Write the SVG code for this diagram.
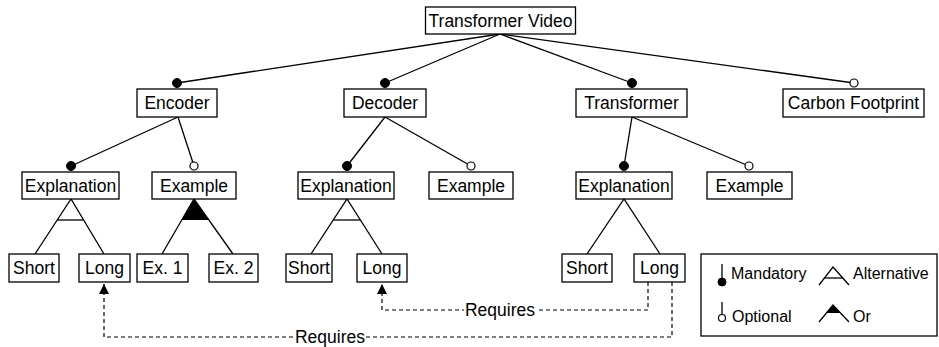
<svg xmlns="http://www.w3.org/2000/svg" width="939" height="347" viewBox="0 0 939 347">
<style>
.box{fill:#fff;stroke:#000;stroke-width:1.3}
.t{font-family:"Liberation Sans",Arial,Helvetica,sans-serif;font-size:17.5px;fill:#000;text-anchor:middle}
.lt{font-family:"Liberation Sans",Arial,Helvetica,sans-serif;font-size:16px;fill:#000}
.ln{stroke:#000;stroke-width:1.3;fill:none}
.man{fill:#000;stroke:#000;stroke-width:1}
.opt{fill:#fff;stroke:#000;stroke-width:1.2}
.dash{stroke:#000;stroke-width:1.2;fill:none;stroke-dasharray:4,3}
.orf{fill:#000;stroke:none}
</style>
<defs>
<marker id="arr" viewBox="0 0 10 10" refX="10" refY="5" markerWidth="10" markerHeight="10" markerUnits="userSpaceOnUse" orient="auto">
<path d="M0,0 L10,5 L0,10 z" fill="#000"/>
</marker>
</defs>
<g id="connectors">
<line class="ln" x1="500" y1="34" x2="177" y2="83"/>
<line class="ln" x1="500" y1="34" x2="385" y2="83"/>
<line class="ln" x1="500" y1="34" x2="632" y2="83"/>
<line class="ln" x1="500" y1="34" x2="854" y2="83"/>
<line class="ln" x1="178" y1="117" x2="71" y2="166"/>
<line class="ln" x1="178" y1="117" x2="194" y2="166"/>
<line class="ln" x1="385" y1="117" x2="347" y2="166"/>
<line class="ln" x1="385" y1="117" x2="471" y2="166"/>
<line class="ln" x1="632" y1="117" x2="624" y2="166"/>
<line class="ln" x1="632" y1="117" x2="749" y2="166"/>
<circle class="man" cx="177" cy="83" r="4.5"/>
<circle class="man" cx="385" cy="83" r="4.5"/>
<circle class="man" cx="632" cy="83" r="4.5"/>
<circle class="opt" cx="854" cy="83" r="4"/>
<circle class="man" cx="71" cy="166" r="4.5"/>
<circle class="opt" cx="194" cy="166" r="4"/>
<circle class="man" cx="347" cy="166" r="4.5"/>
<circle class="opt" cx="471" cy="166" r="4"/>
<circle class="man" cx="624" cy="166" r="4.5"/>
<circle class="opt" cx="749" cy="166" r="4"/>
<polyline class="ln" points="35,254 71,199 104,254"/>
<line class="ln" x1="57.3" y1="220" x2="83.6" y2="220"/>
<polygon class="orf" points="194,199 181.8,220 208.9,220"/>
<polyline class="ln" points="162,254 194,199 233,254"/>
<polyline class="ln" points="311,254 347,199 382,254"/>
<line class="ln" x1="333.3" y1="220" x2="360.4" y2="220"/>
<polyline class="ln" points="587,254 624,199 660,254"/>
<path class="dash" d="M648,282 V310 H382 V284" marker-end="url(#arr)"/>
<path class="dash" d="M672,282 V337 H104 V284" marker-end="url(#arr)"/>
<rect x="464" y="300" width="72" height="20" fill="#fff"/>
<text class="t" x="500" y="316">Requires</text>
<rect x="294" y="327" width="72" height="20" fill="#fff"/>
<text class="t" x="330" y="343">Requires</text>
</g>
<g id="root"><rect class="box" x="425.5" y="7" width="150" height="27"/><text class="t" x="500.5" y="27">Transformer Video</text></g>
<g id="encoder"><rect class="box" x="137" y="89" width="80" height="28"/><text class="t" x="177" y="109">Encoder</text></g>
<g id="decoder"><rect class="box" x="344" y="89" width="82" height="28"/><text class="t" x="385" y="109">Decoder</text></g>
<g id="transformer"><rect class="box" x="576" y="89" width="111" height="28"/><text class="t" x="631.5" y="109">Transformer</text></g>
<g id="carbon"><rect class="box" x="783" y="89" width="141" height="28"/><text class="t" x="853.5" y="109">Carbon Footprint</text></g>
<g id="enc-explanation"><rect class="box" x="22" y="172" width="97" height="27"/><text class="t" x="70.5" y="192">Explanation</text></g>
<g id="enc-example"><rect class="box" x="152" y="172" width="84" height="27"/><text class="t" x="194" y="192">Example</text></g>
<g id="dec-explanation"><rect class="box" x="298" y="172" width="96" height="27"/><text class="t" x="346" y="192">Explanation</text></g>
<g id="dec-example"><rect class="box" x="429" y="172" width="84" height="27"/><text class="t" x="471" y="192">Example</text></g>
<g id="tr-explanation"><rect class="box" x="576" y="172" width="96" height="27"/><text class="t" x="624" y="192">Explanation</text></g>
<g id="tr-example"><rect class="box" x="707" y="172" width="85" height="27"/><text class="t" x="749.5" y="192">Example</text></g>
<g id="enc-short"><rect class="box" x="9" y="254" width="50" height="28"/><text class="t" x="34" y="274">Short</text></g>
<g id="enc-long"><rect class="box" x="79" y="254" width="51" height="28"/><text class="t" x="104.5" y="274">Long</text></g>
<g id="ex1"><rect class="box" x="137" y="254" width="51" height="28"/><text class="t" x="162.5" y="274">Ex. 1</text></g>
<g id="ex2"><rect class="box" x="209" y="254" width="49" height="28"/><text class="t" x="233.5" y="274">Ex. 2</text></g>
<g id="dec-short"><rect class="box" x="286" y="254" width="46" height="28"/><text class="t" x="309" y="274">Short</text></g>
<g id="dec-long"><rect class="box" x="357" y="254" width="50" height="28"/><text class="t" x="382" y="274">Long</text></g>
<g id="tr-short"><rect class="box" x="562" y="254" width="50" height="28"/><text class="t" x="587" y="274">Short</text></g>
<g id="tr-long"><rect class="box" x="634" y="254" width="51" height="28"/><text class="t" x="659.5" y="274">Long</text></g>
<g id="legend">
<rect class="box" x="701" y="254" width="236" height="82"/>
<line class="ln" x1="722" y1="264" x2="722" y2="279"/>
<circle class="man" cx="722" cy="282" r="4"/>
<text class="lt" x="731" y="279">Mandatory</text>
<polyline class="ln" points="819,285 833,267 849,285"/>
<line class="ln" x1="824.4" y1="278" x2="842.8" y2="278"/>
<text class="lt" x="853" y="279">Alternative</text>
<line class="ln" x1="722" y1="302" x2="722" y2="314.5"/>
<circle class="opt" cx="722" cy="318" r="3.5"/>
<text class="lt" x="732" y="322">Optional</text>
<polygon class="orf" points="833,305 826.4,313 840.5,313"/>
<polyline class="ln" points="819,322 833,305 849,322"/>
<text class="lt" x="853" y="322">Or</text>
</g>
</svg>
